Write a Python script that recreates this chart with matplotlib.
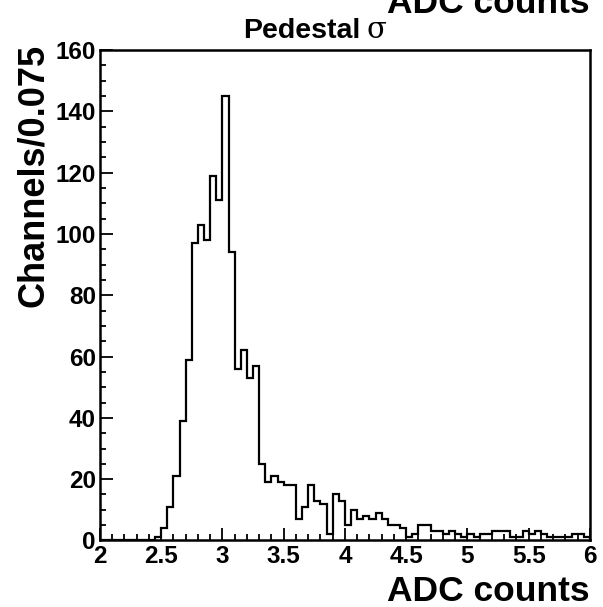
import numpy as np
import matplotlib
matplotlib.use("Agg")
import matplotlib.pyplot as plt
from matplotlib.ticker import MultipleLocator

plt.rcParams['font.family'] = ['Liberation Sans', 'DejaVu Sans']

x_min, x_max, bin_width = 2.0, 6.0, 0.05
counts = [0, 0, 0, 0, 0, 0, 0, 0, 0,
          1, 4, 11, 21, 39, 59, 97, 103, 98, 119, 111,
          145, 94, 56, 62, 53, 57, 25, 19, 21, 19,
          18, 18, 7, 11, 18, 13, 12, 2, 15, 13,
          5, 10, 7, 8, 7, 9, 7, 5, 5, 4,
          1, 2, 5, 5, 3, 3, 2, 3, 2, 1,
          2, 1, 2, 2, 3, 3, 3, 1, 1, 3,
          2, 3, 2, 1, 1, 1, 1, 2, 2, 1]
x_ticks = [2, 2.5, 3, 3.5, 4, 4.5, 5, 5.5, 6]
x_tick_labels = ["2", "2.5", "3", "3.5", "4", "4.5", "5", "5.5", "6"]
y_ticks = [0, 20, 40, 60, 80, 100, 120, 140, 160]
title_text = "Pedestal"
title_symbol = "σ"
x_label = "ADC counts"
y_label = "Channels/0.075"

edges = np.linspace(x_min, x_max, len(counts) + 1)

fig = plt.figure(figsize=(6.03, 6.07), dpi=100)
ax = fig.add_axes([0.1658, 0.1096, 0.8126, 0.808])
ax.stairs(counts, edges, color='black', linewidth=1.6)
ax.set_xlim(x_min, x_max)
ax.set_ylim(0, 160)

for s in ax.spines.values():
    s.set_linewidth(1.8)

ax.set_xticks(x_ticks)
ax.set_xticklabels(x_tick_labels)
ax.set_yticks(y_ticks)
ax.xaxis.set_minor_locator(MultipleLocator(0.1))
ax.yaxis.set_minor_locator(MultipleLocator(5))
ax.tick_params(which='both', direction='in', top=False, right=False, width=1.3)
ax.tick_params(which='major', length=9, labelsize=17.5, pad=3)
ax.tick_params(which='minor', length=4.5)
for lab in ax.get_xticklabels() + ax.get_yticklabels():
    lab.set_fontweight('bold')

# x label bottom right
fig.text(590 / 603, 1 - 601 / 607, x_label, ha='right', va='baseline',
         fontsize=25.5, fontweight='bold')
# clipped duplicate at the top right
fig.text(590 / 603, 1 - 13 / 607, x_label, ha='right', va='baseline',
         fontsize=25.5, fontweight='bold')
# y label
fig.text(34 / 603, 1 - 44 / 607, y_label, ha='center', va='top', rotation=90,
         fontsize=26, fontweight='bold')
# title
fig.text(360 / 603, 1 - 38 / 607, title_text, ha='right', va='baseline',
         fontsize=20.5, fontweight='bold')
fig.text(366 / 603, 1 - 38 / 607, title_symbol, ha='left', va='baseline',
         fontsize=21, family=['DejaVu Serif', 'DejaVu Sans'])

fig.savefig("out.png", dpi=100)
